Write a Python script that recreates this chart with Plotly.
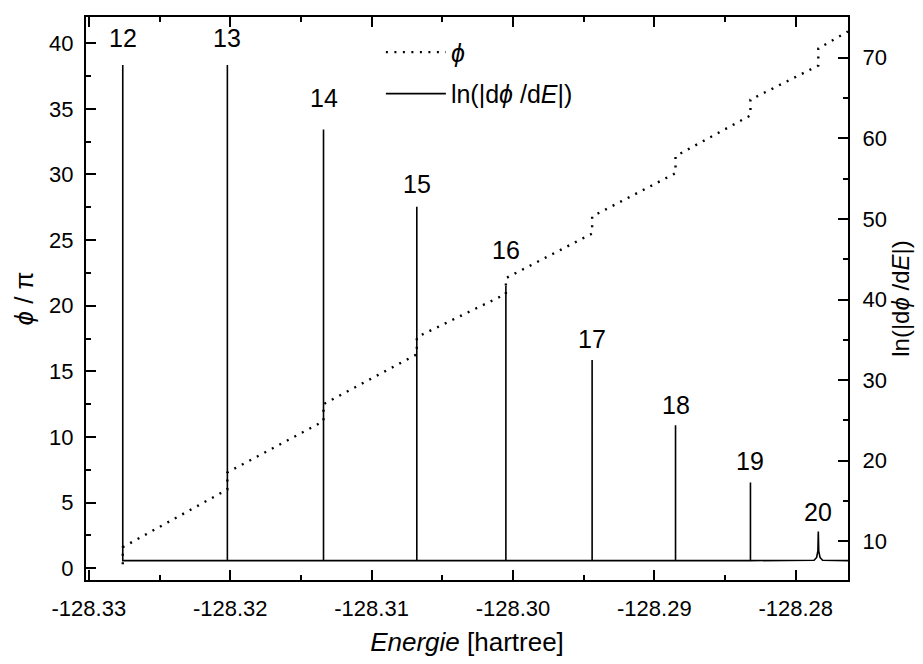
import plotly.graph_objects as go

# Resonance indices, energies (hartree) and peak heights of ln(|dphi/dE|)
peak_n = [12, 13, 14, 15, 16, 17, 18, 19, 20]
peak_E = [-128.3276, -128.3202, -128.3134, -128.3068, -128.3005,
          -128.2944, -128.2885, -128.2832, -128.2784]
peak_ln = [69.1, 69.1, 61.1, 51.5, 41.7, 32.5, 24.4, 17.3, 11.2]
ln_base = 7.6
E_end = -128.2763

# Broadened shape of the last resonance (offsets in hartree from its centre)
last_dE = [-0.0003, -0.00012, -0.00003, 0.0, 0.00003, 0.00012, 0.0003]
last_ln = [7.65, 8.0, 8.8, 11.2, 8.8, 8.0, 7.65]

# Phase phi/pi: values just before and after each resonance step
phi_E = [-128.3276, -128.3276, -128.3202, -128.3202, -128.3134, -128.3134,
         -128.3068, -128.3068, -128.3005, -128.3005, -128.2944, -128.2944,
         -128.2885, -128.2885, -128.2832, -128.2832, -128.2784, -128.2784,
         -128.2763]
phi_val = [0.3, 1.6, 6.0, 7.3, 11.2, 12.5, 16.3, 17.6, 20.9, 22.1,
           25.5, 26.8, 30.1, 31.4, 34.5, 35.7, 38.3, 39.6, 40.9]

x_ticks = [-128.33, -128.32, -128.31, -128.30, -128.29, -128.28]

# Assemble the ln(|dphi/dE|) curve: flat baseline with narrow spikes
ln_E, ln_v = [peak_E[0]], [ln_base]
for E, h in zip(peak_E[:-1], peak_ln[:-1]):
    ln_E += [E, E, E]
    ln_v += [ln_base, h, ln_base]
ln_E += [peak_E[-1] + d for d in last_dE]
ln_v += last_ln
ln_E.append(E_end)
ln_v.append(ln_base)

FONT = "Liberation Sans, Arial, sans-serif"
PHI = "ϕ"

fig = go.Figure()
fig.add_trace(go.Scatter(
    x=phi_E, y=phi_val, mode="lines", name=f"<i>{PHI}</i>",
    line=dict(color="black", width=2.4, dash="2px,6.5px"),
    legendgroup="a", yaxis="y"))
fig.add_trace(go.Scatter(
    x=ln_E, y=ln_v, mode="lines", name=f"ln(|d<i>{PHI}</i> /d<i>E</i>|)",
    line=dict(color="black", width=1.6),
    legendgroup="b", yaxis="y2"))

# Resonance index labels above each spike
label_gap = [11, 11, 15, 7, 20, 5, 4, 5, 4]
for n, E, h, g in zip(peak_n, peak_E, peak_ln, label_gap):
    fig.add_annotation(x=E, y=h, xref="x", yref="y2", text=str(n),
                       showarrow=False, yanchor="bottom", yshift=g,
                       font=dict(size=25, color="black", family=FONT))

tick_font = dict(size=22, family=FONT, color="black")

fig.update_layout(
    width=923, height=664,
    margin=dict(l=86, r=75, t=17, b=80),
    paper_bgcolor="white", plot_bgcolor="white",
    font=dict(family=FONT, color="black", size=22),
    showlegend=True,
    legend=dict(x=0.387, y=0.978, xanchor="left", yanchor="top",
                bgcolor="rgba(0,0,0,0)", font=dict(size=25),
                tracegroupgap=6, itemwidth=60),
    xaxis=dict(
        range=[-128.3302, -128.2763],
        tickvals=x_ticks, ticktext=[f"{v:.2f}" for v in x_ticks],
        tickfont=tick_font,
        ticks="inside", ticklen=10, tickwidth=2, tickcolor="black",
        showline=True, linewidth=2, linecolor="black", mirror="ticks",
        showgrid=False, zeroline=False,
        minor=dict(dtick=0.005, tick0=-128.33, ticks="inside",
                   ticklen=5, tickwidth=2, tickcolor="black"),
        title=dict(text="<i>Energie</i> [hartree]", font=dict(size=26),
                   standoff=12),
        ticklabelstandoff=8,
    ),
    yaxis=dict(
        range=[-0.9, 42], tick0=0, dtick=5, tickfont=tick_font,
        ticks="inside", ticklen=10, tickwidth=2, tickcolor="black",
        showline=True, linewidth=2, linecolor="black",
        showgrid=False, zeroline=False,
        minor=dict(dtick=2.5, ticks="inside", ticklen=5, tickwidth=2,
                   tickcolor="black"),
        title=dict(text=f"<i>{PHI}</i> / π", font=dict(size=26), standoff=8),
        ticklabelstandoff=6,
    ),
    yaxis2=dict(
        range=[5.2, 75.05], tick0=0, dtick=10, overlaying="y", side="right",
        tickfont=tick_font,
        ticks="inside", ticklen=10, tickwidth=2, tickcolor="black",
        showline=True, linewidth=2, linecolor="black",
        showgrid=False, zeroline=False,
        minor=dict(dtick=5, ticks="inside", ticklen=5, tickwidth=2,
                   tickcolor="black"),
        title=dict(text=f"ln(|d<i>{PHI}</i> /d<i>E</i>|)",
                   font=dict(size=24), standoff=6),
        ticklabelstandoff=8,
    ),
)

fig.write_html("out.html")
